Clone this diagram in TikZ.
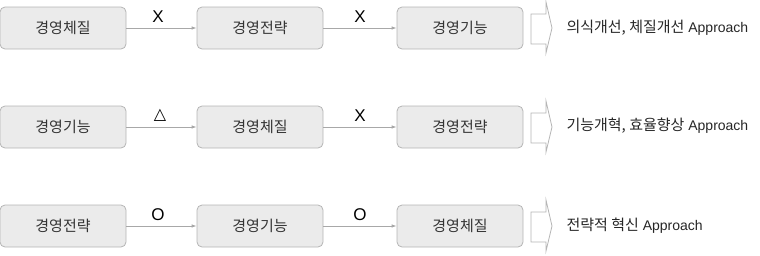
\documentclass[tikz,border=0pt]{standalone}
\usepackage{fontspec}
\setmainfont{Liberation Sans}
\newfontfamily\kr{Noto Sans CJK KR}
\newfontfamily\dv{DejaVu Sans}
\usetikzlibrary{arrows.meta}
\definecolor{boxfill}{HTML}{EBEBEB}
\definecolor{boxline}{HTML}{B5B5B5}
\definecolor{arrline}{HTML}{A8A8A8}
\tikzset{
  stagebox/.style={draw=boxline, fill=boxfill, rounded corners=5pt, line width=0.8pt,
    minimum width=126pt, minimum height=42pt, inner sep=0pt, font=\kr\fontsize{15}{18}\selectfont, text=black!80},
  flow/.style={draw=arrline, line width=0.8pt, -{Latex[length=5pt,width=3.5pt]}},
  evallabel/.style={font=\fontsize{17}{20}\selectfont},
  blockarr/.style={draw=boxline, fill=white, line width=0.8pt},
  result/.style={anchor=west, font=\fontsize{14}{16}\selectfont, text=black!85}
}
\newcommand{\krt}[1]{{\kr\fontsize{15}{16}\selectfont #1}}
\begin{document}
\begin{tikzpicture}[x=1pt,y=-1pt]
\useasboundingbox (0,0) rectangle (760,255);
% row 1
\node[stagebox] (a1) at (63,28) {경영체질};
\node[stagebox] (b1) at (260,28) {경영전략};
\node[stagebox] (c1) at (460,28) {경영기능};
\draw[flow] (a1) -- (b1);
\draw[flow] (b1) -- (c1);
\node[evallabel] (m11) at (158,17) {X};
\node[evallabel] (m12) at (360,17) {X};
\draw[blockarr] (531,14) -- (546,14) -- (546,2) -- (552,28) -- (546,53) -- (546,44) -- (531,44) -- cycle;
\node[result] (r1) at (563,28) {\krt{의식개선, 체질개선} Approach};
% row 2
\node[stagebox] (a2) at (63,127) {경영기능};
\node[stagebox] (b2) at (260,127) {경영체질};
\node[stagebox] (c2) at (460,127) {경영전략};
\draw[flow] (a2) -- (b2);
\draw[flow] (b2) -- (c2);
\node[font=\dv\fontsize{16}{18}\selectfont] (m21) at (160,115) {△};
\node[evallabel] (m22) at (360,116) {X};
\draw[blockarr] (531,113) -- (546,113) -- (546,101) -- (552,127) -- (546,152) -- (546,143) -- (531,143) -- cycle;
\node[result] (r2) at (563,126) {\krt{기능개혁, 효율향상} Approach};
% row 3
\node[stagebox] (a3) at (63,226) {경영전략};
\node[stagebox] (b3) at (260,226) {경영기능};
\node[stagebox] (c3) at (460,226) {경영체질};
\draw[flow] (a3) -- (b3);
\draw[flow] (b3) -- (c3);
\node[evallabel] (m31) at (158,215) {O};
\node[evallabel] (m32) at (360,215) {O};
\draw[blockarr] (531,212) -- (546,212) -- (546,200) -- (552,226) -- (546,251) -- (546,242) -- (531,242) -- cycle;
\node[result] (r3) at (563,226) {\krt{전략적 혁신} Approach};
\end{tikzpicture}
\end{document}
